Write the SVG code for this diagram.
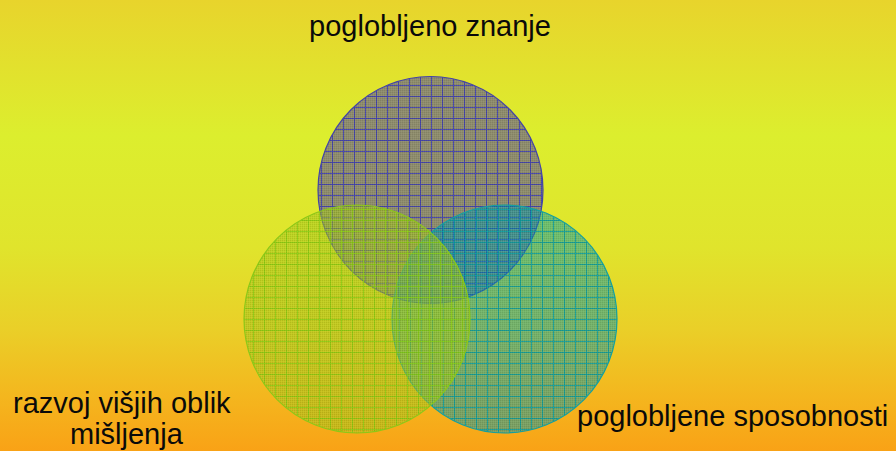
<svg xmlns="http://www.w3.org/2000/svg" width="896" height="451" viewBox="0 0 896 451">
  <defs>
    <linearGradient id="bg" x1="0" y1="0" x2="0" y2="1">
      <stop offset="0" stop-color="#e8d42c"/>
      <stop offset="0.3" stop-color="#dcee2e"/>
      <stop offset="0.55" stop-color="#e0e42c"/>
      <stop offset="0.73" stop-color="#eacf28"/>
      <stop offset="0.88" stop-color="#f4b61e"/>
      <stop offset="1" stop-color="#f9a216"/>
    </linearGradient>
    <pattern id="chk" width="2" height="2" patternUnits="userSpaceOnUse">
      <rect x="0" y="0" width="1" height="1" fill="#000" fill-opacity="0.08"/>
      <rect x="1" y="1" width="1" height="1" fill="#fff" fill-opacity="0.06"/>
    </pattern>
    <pattern id="gridTop" x="2" y="8" width="11" height="11" patternUnits="userSpaceOnUse">
      <rect width="11" height="11" fill="#8e8c6c"/>
      <rect x="0" y="0" width="1" height="11" fill="#4646a8"/>
      <rect x="0" y="0" width="11" height="1" fill="#4646a8"/>
    </pattern>
    <pattern id="gridRight" x="3" y="0" width="11" height="11" patternUnits="userSpaceOnUse">
      <rect width="11" height="11" fill="#0096ac" fill-opacity="0.5"/>
      <rect x="0" y="0" width="1" height="11" fill="#0a9a9c" fill-opacity="0.85"/>
      <rect x="1" y="0" width="10" height="1" fill="#0a9a9c" fill-opacity="0.85"/>
    </pattern>
    <pattern id="gridLeft" x="0" y="0" width="11" height="11" patternUnits="userSpaceOnUse">
      <rect width="11" height="11" fill="#a2c41a" fill-opacity="0.55"/>
      <rect x="0" y="0" width="1" height="11" fill="#86c810" fill-opacity="0.8"/>
      <rect x="1" y="0" width="10" height="1" fill="#86c810" fill-opacity="0.8"/>
    </pattern>
  </defs>
  <style>
    .lbl { font-family: "Liberation Sans", Arial, sans-serif; font-size: 29px; fill: #0a0a0a; }
    .chk { fill: url(#chk); stroke: none; }
  </style>

  <rect id="background" x="0" y="0" width="896" height="451" fill="url(#bg)"/>

  <g id="node-top">
    <ellipse cx="430.5" cy="190" rx="112.5" ry="113.5" fill="url(#gridTop)" stroke="#4444a6" stroke-width="1.2"/>
    <ellipse class="chk" cx="430.5" cy="190" rx="112" ry="113"/>
  </g>

  <g id="node-right">
    <ellipse cx="504.5" cy="319" rx="112.5" ry="114" fill="url(#gridRight)" stroke="#14a0a0" stroke-width="1.2"/>
    <ellipse class="chk" cx="504.5" cy="319" rx="112" ry="113.5"/>
  </g>

  <g id="node-left">
    <ellipse cx="357" cy="319" rx="113" ry="114" fill="url(#gridLeft)" stroke="#8cc818" stroke-width="1.2"/>
    <ellipse class="chk" cx="357" cy="319" rx="112.5" ry="113.5"/>
  </g>

  <g id="connectors"></g>

  <g id="labels">
    <text id="label-top" class="lbl" x="430" y="36" text-anchor="middle">poglobljeno znanje</text>
    <text id="label-left" class="lbl"><tspan x="13" y="413">razvoj višjih oblik</tspan><tspan x="70" y="444">mišljenja</tspan></text>
    <text id="label-right" class="lbl" x="577" y="426">poglobljene sposobnosti</text>
  </g>
</svg>
